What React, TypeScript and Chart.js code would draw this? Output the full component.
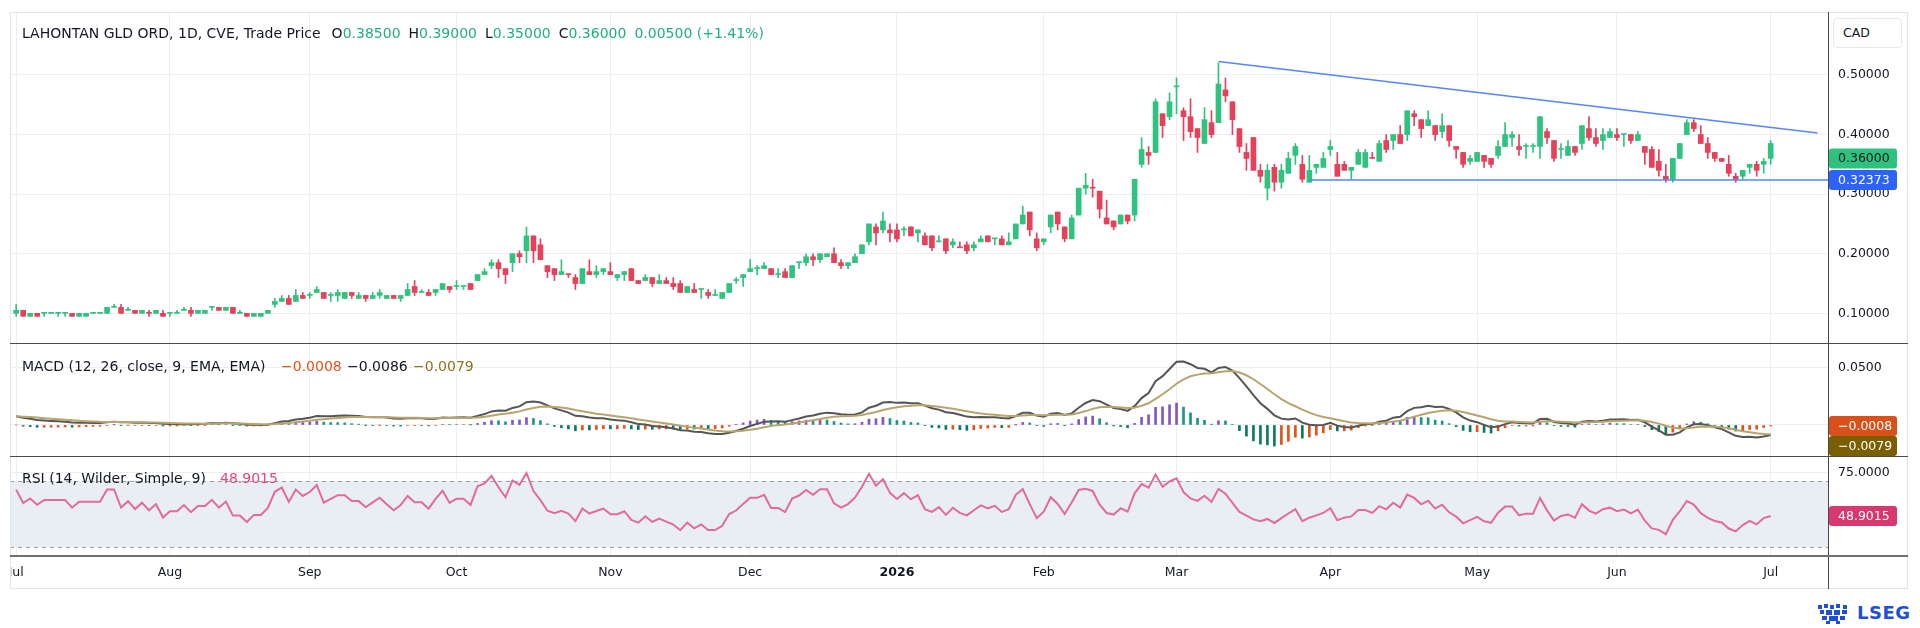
import React, { useEffect, useRef } from 'react';
import { Chart, registerables } from 'chart.js';

Chart.register(...registerables);

// ---------------- DATA ----------------
// Trading days Jul 2 2025 .. Jul 2 2026 (index 0..251)
const monthTickIndex = [0, 22, 42, 63, 85, 105, 126, 147, 166, 188, 209, 229, 251];
const monthTickLabels = ['Jul', 'Aug', 'Sep', 'Oct', 'Nov', 'Dec', '2026', 'Feb', 'Mar', 'Apr', 'May', 'Jun', 'Jul'];

const openPrices = [
  0.100, 0.105, 0.095, 0.100, 0.100, 0.100, 0.100, 0.100, 0.100, 0.095,
  0.095, 0.100, 0.100, 0.100, 0.110, 0.110, 0.105, 0.105, 0.100, 0.100,
  0.100, 0.100, 0.100, 0.100, 0.105, 0.105, 0.100, 0.100, 0.110, 0.110,
  0.105, 0.110, 0.100, 0.100, 0.095, 0.095, 0.100, 0.115, 0.120, 0.125,
  0.120, 0.130, 0.130, 0.135, 0.135, 0.130, 0.130, 0.125, 0.135, 0.125,
  0.130, 0.125, 0.130, 0.125, 0.130, 0.125, 0.130, 0.145, 0.135, 0.135,
  0.135, 0.140, 0.145, 0.145, 0.145, 0.150, 0.155, 0.165, 0.180, 0.185,
  0.175, 0.185, 0.200, 0.205, 0.230, 0.215, 0.180, 0.175, 0.165, 0.165,
  0.160, 0.150, 0.170, 0.165, 0.170, 0.170, 0.160, 0.165, 0.175, 0.155,
  0.155, 0.160, 0.150, 0.155, 0.150, 0.150, 0.135, 0.140, 0.140, 0.135,
  0.130, 0.125, 0.135, 0.155, 0.160, 0.170, 0.175, 0.175, 0.175, 0.165,
  0.170, 0.160, 0.185, 0.185, 0.195, 0.190, 0.195, 0.200, 0.185, 0.180,
  0.185, 0.200, 0.220, 0.245, 0.240, 0.240, 0.240, 0.240, 0.245, 0.235,
  0.230, 0.230, 0.220, 0.225, 0.215, 0.210, 0.215, 0.210, 0.220, 0.230,
  0.225, 0.225, 0.215, 0.225, 0.250, 0.270, 0.225, 0.220, 0.245, 0.270,
  0.245, 0.225, 0.265, 0.310, 0.310, 0.305, 0.260, 0.255, 0.250, 0.265,
  0.265, 0.350, 0.370, 0.370, 0.435, 0.430, 0.480, 0.440, 0.430, 0.410,
  0.385, 0.420, 0.420, 0.475, 0.455, 0.410, 0.370, 0.395, 0.340, 0.310,
  0.345, 0.320, 0.335, 0.365, 0.350, 0.320, 0.345, 0.345, 0.375, 0.350,
  0.350, 0.340, 0.350, 0.345, 0.360, 0.355, 0.390, 0.390, 0.400, 0.400,
  0.435, 0.425, 0.415, 0.415, 0.405, 0.415, 0.380, 0.370, 0.355, 0.355,
  0.365, 0.360, 0.365, 0.380, 0.395, 0.380, 0.380, 0.380, 0.380, 0.405,
  0.390, 0.375, 0.365, 0.380, 0.385, 0.410, 0.395, 0.390, 0.395, 0.400,
  0.400, 0.400, 0.390, 0.380, 0.375, 0.355, 0.330, 0.325, 0.360, 0.400,
  0.420, 0.400, 0.385, 0.370, 0.360, 0.350, 0.330, 0.330, 0.345, 0.350,
  0.350, 0.385,
];

const highPrices = [
  0.115, 0.105, 0.100, 0.100, 0.100, 0.100, 0.100, 0.100, 0.100, 0.100,
  0.100, 0.100, 0.100, 0.110, 0.115, 0.115, 0.110, 0.105, 0.105, 0.105,
  0.105, 0.105, 0.100, 0.105, 0.110, 0.110, 0.105, 0.105, 0.110, 0.110,
  0.110, 0.110, 0.105, 0.100, 0.100, 0.100, 0.105, 0.125, 0.130, 0.130,
  0.140, 0.135, 0.135, 0.145, 0.135, 0.135, 0.140, 0.135, 0.135, 0.135,
  0.130, 0.135, 0.140, 0.130, 0.130, 0.130, 0.150, 0.155, 0.140, 0.140,
  0.140, 0.150, 0.145, 0.155, 0.145, 0.150, 0.165, 0.175, 0.190, 0.190,
  0.175, 0.200, 0.205, 0.245, 0.230, 0.225, 0.180, 0.175, 0.190, 0.165,
  0.165, 0.175, 0.190, 0.180, 0.175, 0.185, 0.165, 0.170, 0.175, 0.155,
  0.165, 0.160, 0.165, 0.160, 0.160, 0.155, 0.145, 0.150, 0.140, 0.140,
  0.140, 0.135, 0.150, 0.160, 0.165, 0.190, 0.180, 0.185, 0.175, 0.175,
  0.175, 0.180, 0.185, 0.200, 0.200, 0.200, 0.200, 0.210, 0.190, 0.185,
  0.200, 0.215, 0.250, 0.250, 0.270, 0.250, 0.250, 0.245, 0.245, 0.240,
  0.235, 0.230, 0.230, 0.225, 0.225, 0.220, 0.220, 0.220, 0.230, 0.230,
  0.225, 0.230, 0.235, 0.250, 0.280, 0.270, 0.235, 0.225, 0.265, 0.270,
  0.245, 0.265, 0.310, 0.335, 0.325, 0.305, 0.290, 0.255, 0.265, 0.265,
  0.325, 0.395, 0.380, 0.460, 0.435, 0.470, 0.495, 0.445, 0.460, 0.410,
  0.445, 0.440, 0.520, 0.495, 0.455, 0.410, 0.385, 0.395, 0.350, 0.350,
  0.350, 0.350, 0.370, 0.385, 0.365, 0.365, 0.350, 0.370, 0.390, 0.370,
  0.355, 0.345, 0.375, 0.375, 0.370, 0.390, 0.400, 0.400, 0.415, 0.440,
  0.440, 0.425, 0.440, 0.415, 0.435, 0.415, 0.380, 0.370, 0.365, 0.370,
  0.365, 0.360, 0.390, 0.420, 0.405, 0.400, 0.385, 0.385, 0.430, 0.410,
  0.390, 0.385, 0.390, 0.380, 0.415, 0.430, 0.410, 0.410, 0.410, 0.410,
  0.400, 0.400, 0.405, 0.380, 0.380, 0.375, 0.350, 0.360, 0.385, 0.425,
  0.425, 0.415, 0.395, 0.370, 0.360, 0.365, 0.335, 0.340, 0.350, 0.355,
  0.360, 0.390,
];

const lowPrices = [
  0.095, 0.095, 0.095, 0.095, 0.095, 0.100, 0.095, 0.095, 0.095, 0.095,
  0.095, 0.100, 0.100, 0.100, 0.110, 0.100, 0.105, 0.100, 0.100, 0.095,
  0.100, 0.095, 0.095, 0.100, 0.105, 0.095, 0.100, 0.100, 0.105, 0.105,
  0.105, 0.100, 0.100, 0.095, 0.095, 0.095, 0.100, 0.110, 0.120, 0.115,
  0.120, 0.125, 0.125, 0.135, 0.125, 0.120, 0.120, 0.125, 0.125, 0.125,
  0.120, 0.125, 0.125, 0.125, 0.125, 0.120, 0.130, 0.130, 0.135, 0.130,
  0.130, 0.140, 0.135, 0.140, 0.140, 0.140, 0.155, 0.165, 0.175, 0.160,
  0.150, 0.170, 0.185, 0.185, 0.185, 0.190, 0.160, 0.155, 0.165, 0.160,
  0.140, 0.150, 0.165, 0.160, 0.165, 0.165, 0.155, 0.155, 0.155, 0.150,
  0.155, 0.145, 0.150, 0.150, 0.140, 0.135, 0.135, 0.135, 0.125, 0.125,
  0.130, 0.125, 0.135, 0.150, 0.145, 0.170, 0.165, 0.175, 0.165, 0.160,
  0.160, 0.160, 0.175, 0.180, 0.180, 0.185, 0.195, 0.185, 0.175, 0.175,
  0.185, 0.200, 0.215, 0.215, 0.235, 0.220, 0.220, 0.230, 0.230, 0.220,
  0.215, 0.205, 0.220, 0.200, 0.210, 0.210, 0.200, 0.205, 0.220, 0.220,
  0.215, 0.215, 0.215, 0.225, 0.250, 0.230, 0.205, 0.215, 0.235, 0.240,
  0.220, 0.225, 0.265, 0.300, 0.295, 0.260, 0.250, 0.240, 0.250, 0.250,
  0.255, 0.345, 0.350, 0.370, 0.395, 0.425, 0.435, 0.390, 0.395, 0.370,
  0.385, 0.395, 0.420, 0.455, 0.400, 0.370, 0.340, 0.340, 0.320, 0.290,
  0.305, 0.310, 0.335, 0.350, 0.320, 0.320, 0.335, 0.345, 0.365, 0.330,
  0.340, 0.325, 0.350, 0.345, 0.360, 0.355, 0.370, 0.375, 0.385, 0.390,
  0.415, 0.395, 0.415, 0.390, 0.395, 0.380, 0.360, 0.345, 0.350, 0.355,
  0.345, 0.345, 0.360, 0.380, 0.380, 0.365, 0.360, 0.370, 0.360, 0.385,
  0.355, 0.360, 0.365, 0.365, 0.375, 0.390, 0.380, 0.375, 0.395, 0.390,
  0.380, 0.385, 0.390, 0.350, 0.345, 0.330, 0.320, 0.320, 0.360, 0.400,
  0.405, 0.385, 0.360, 0.355, 0.355, 0.330, 0.320, 0.325, 0.335, 0.330,
  0.335, 0.350,
];

const closePrices = [
  0.105, 0.095, 0.100, 0.095, 0.100, 0.100, 0.100, 0.100, 0.095, 0.100,
  0.100, 0.100, 0.100, 0.110, 0.110, 0.100, 0.105, 0.100, 0.105, 0.100,
  0.105, 0.095, 0.100, 0.100, 0.105, 0.100, 0.105, 0.105, 0.110, 0.105,
  0.110, 0.100, 0.100, 0.095, 0.100, 0.100, 0.105, 0.120, 0.125, 0.115,
  0.130, 0.125, 0.130, 0.140, 0.125, 0.130, 0.135, 0.135, 0.130, 0.130,
  0.125, 0.130, 0.135, 0.130, 0.125, 0.130, 0.140, 0.135, 0.135, 0.130,
  0.140, 0.150, 0.140, 0.145, 0.145, 0.140, 0.165, 0.170, 0.185, 0.175,
  0.165, 0.200, 0.195, 0.230, 0.205, 0.190, 0.170, 0.165, 0.170, 0.165,
  0.150, 0.175, 0.165, 0.170, 0.175, 0.165, 0.165, 0.170, 0.155, 0.150,
  0.160, 0.150, 0.155, 0.150, 0.145, 0.135, 0.145, 0.135, 0.140, 0.130,
  0.130, 0.135, 0.150, 0.155, 0.165, 0.175, 0.175, 0.180, 0.165, 0.165,
  0.160, 0.180, 0.185, 0.195, 0.190, 0.200, 0.200, 0.185, 0.180, 0.185,
  0.195, 0.215, 0.250, 0.235, 0.255, 0.235, 0.225, 0.240, 0.230, 0.240,
  0.215, 0.210, 0.220, 0.205, 0.220, 0.210, 0.205, 0.215, 0.225, 0.220,
  0.225, 0.215, 0.220, 0.250, 0.265, 0.240, 0.210, 0.225, 0.265, 0.250,
  0.225, 0.260, 0.310, 0.315, 0.310, 0.275, 0.250, 0.245, 0.265, 0.255,
  0.325, 0.375, 0.365, 0.455, 0.415, 0.455, 0.480, 0.430, 0.405, 0.395,
  0.425, 0.400, 0.485, 0.465, 0.425, 0.380, 0.360, 0.340, 0.330, 0.340,
  0.320, 0.340, 0.360, 0.380, 0.325, 0.340, 0.350, 0.360, 0.380, 0.330,
  0.340, 0.345, 0.370, 0.370, 0.360, 0.385, 0.375, 0.400, 0.385, 0.440,
  0.430, 0.410, 0.425, 0.400, 0.415, 0.390, 0.375, 0.350, 0.360, 0.370,
  0.355, 0.350, 0.380, 0.400, 0.400, 0.375, 0.380, 0.380, 0.430, 0.395,
  0.360, 0.375, 0.380, 0.370, 0.415, 0.395, 0.385, 0.400, 0.405, 0.395,
  0.400, 0.390, 0.400, 0.370, 0.345, 0.340, 0.325, 0.360, 0.385, 0.420,
  0.410, 0.385, 0.370, 0.360, 0.355, 0.335, 0.325, 0.340, 0.350, 0.340,
  0.355, 0.360,
];

// header values
const lastChange = 0.005;
const headerOHLC = ['0.38500', '0.39000', '0.35000', '0.36000'];
const headerChange = '0.00500 (+1.41%)';

// drawn trend lines
const trendTopLine = [{ x: 172, y: 0.5225 }, { x: 257.7, y: 0.4027 }];
const supportLevel = 0.32373;
const supportStartIndex = 185;

const macdStartValue = 0.0076;
const rsiSeedAvgGain = 0.0035;
const rsiSeedAvgLoss = 0.0019;

// legend / badge values shown on the reference
const macdLegendValues = ['\u22120.0008', '\u22120.0086', '\u22120.0079'];
const macdHistLast = -0.0008;
const macdSignalLast = -0.0079;
const rsiLast = 48.9015;

// axis ticks
const priceTicks = [0.1, 0.2, 0.3, 0.4, 0.5];
const macdTicks = [0, 0.05];
const rsiTicks = [50, 75];

// ---------------- STYLE ----------------
const FONT = '"DejaVu Sans", sans-serif';
const GREEN = '#2ec47f';
const RED = '#e5415b';
const GRID = '#eceef1';
const TEXT = '#131722';
const X_MIN = -0.887;
const X_MAX = 259.2;

// ---------------- INDICATORS ----------------
function computeMacd(closes: number[]) {
  const k12 = 2 / 13, k26 = 2 / 27, k9 = 2 / 10;
  let e12 = closes[0];
  let e26 = closes[0] - macdStartValue;
  let sig = macdStartValue;
  const macd: number[] = [], signal: number[] = [], hist: number[] = [];
  for (let i = 0; i < closes.length; i++) {
    if (i > 0) {
      e12 = closes[i] * k12 + e12 * (1 - k12);
      e26 = closes[i] * k26 + e26 * (1 - k26);
    }
    const m = e12 - e26;
    if (i > 0) sig = m * k9 + sig * (1 - k9);
    macd.push(m);
    signal.push(sig);
    hist.push(m - sig);
  }
  return { macd, signal, hist };
}

function computeRsi(closes: number[]) {
  let ag = rsiSeedAvgGain, al = rsiSeedAvgLoss;
  const out: number[] = [];
  for (let i = 0; i < closes.length; i++) {
    if (i > 0) {
      const ch = closes[i] - closes[i - 1];
      ag = (ag * 13 + Math.max(ch, 0)) / 14;
      al = (al * 13 + Math.max(-ch, 0)) / 14;
    }
    out.push(al === 0 ? 100 : 100 - 100 / (1 + ag / al));
  }
  return out;
}

type Badge = { value: number; text: string; bg: string; fg: string };

function badgePlugin(id: string, badges: Badge[]) {
  return {
    id,
    afterDraw(chart: any) {
      const { ctx, chartArea } = chart;
      const yScale = chart.scales.y;
      const h = 20;
      const items = badges
        .map((b) => ({ ...b, py: yScale.getPixelForValue(b.value) }))
        .sort((a, b) => a.py - b.py);
      let prevBottom = -Infinity;
      ctx.save();
      ctx.font = `12.5px ${FONT}`;
      ctx.textBaseline = 'middle';
      ctx.textAlign = 'left';
      for (const b of items) {
        let top = b.py - h / 2;
        if (top < prevBottom) top = prevBottom;
        ctx.beginPath();
        ctx.roundRect(chartArea.right + 1, top, 68, h, 3);
        ctx.fillStyle = b.bg;
        ctx.fill();
        ctx.fillStyle = b.fg;
        ctx.fillText(b.text, chartArea.right + 10, top + h / 2 + 0.5);
        prevBottom = top + h;
      }
      ctx.restore();
    },
  };
}

function xScale(showLabels: boolean) {
  return {
    type: 'linear',
    min: X_MIN,
    max: X_MAX,
    offset: false,
    afterBuildTicks: (s: any) => {
      s.ticks = monthTickIndex.map((v) => ({ value: v }));
    },
    afterFit: (s: any) => {
      s.height = showLabels ? 33 : 0;
      s.paddingLeft = 0;
      s.paddingRight = 0;
      s.paddingTop = 0;
      s.paddingBottom = 0;
    },
    grid: { color: GRID, drawTicks: false, offset: false },
    border: { display: false },
    ticks: {
      display: showLabels,
      autoSkip: false,
      maxRotation: 0,
      minRotation: 0,
      padding: 9,
      color: TEXT,
      font: (c: any) => ({
        family: FONT,
        size: 12.5,
        weight: monthTickLabels[c.index] === '2026' ? 'bold' : 'normal',
      }),
      callback: (_v: any, i: number) => monthTickLabels[i],
    },
  };
}

function yScale(min: number, max: number, ticks: number[], digits: number) {
  return {
    type: 'linear',
    position: 'right',
    min,
    max,
    afterBuildTicks: (s: any) => {
      s.ticks = ticks.map((v) => ({ value: v }));
    },
    afterFit: (s: any) => {
      s.width = 80;
      s.paddingTop = 0;
      s.paddingBottom = 0;
      s.paddingLeft = 0;
      s.paddingRight = 0;
    },
    grid: { color: GRID, drawTicks: false },
    border: { display: false },
    ticks: {
      padding: 10,
      color: TEXT,
      font: { family: FONT, size: 12.5 },
      callback: (v: any) => Number(v).toFixed(digits),
    },
  };
}

const baseOptions = {
  responsive: false,
  maintainAspectRatio: false,
  animation: false,
  devicePixelRatio: 1,
  events: [],
  layout: { padding: 0, autoPadding: false },
  plugins: { legend: { display: false }, tooltip: { enabled: false } },
};

export default function App() {
  const priceRef = useRef<HTMLCanvasElement>(null);
  const macdRef = useRef<HTMLCanvasElement>(null);
  const rsiRef = useRef<HTMLCanvasElement>(null);

  useEffect(() => {
    const n = closePrices.length;
    const upColor = closePrices.map((c, i) => {
      const o = openPrices[i];
      const prev = i > 0 ? closePrices[i - 1] : c;
      let up: boolean;
      if (i === n - 1) up = lastChange >= 0;
      else if (c > o) up = true;
      else if (c < o) up = false;
      else up = c >= prev;
      return up ? GREEN : RED;
    });

    const wickData = closePrices.map((_, i) => ({ x: i, y: [lowPrices[i], highPrices[i]] }));
    const bodyData = closePrices.map((c, i) => ({ x: i, y: [openPrices[i], c] }));

    const priceChart = new Chart(priceRef.current as HTMLCanvasElement, {
      type: 'bar',
      data: {
        datasets: [
          {
            type: 'bar',
            data: wickData as any,
            backgroundColor: upColor,
            grouped: false,
            maxBarThickness: 1,
            barPercentage: 1,
            categoryPercentage: 1,
            borderWidth: 0,
            order: 3,
          } as any,
          {
            type: 'bar',
            data: bodyData as any,
            backgroundColor: upColor,
            grouped: false,
            maxBarThickness: 5,
            barPercentage: 1,
            categoryPercentage: 1,
            borderWidth: 0,
            minBarLength: 1,
            order: 2,
          } as any,
          {
            type: 'line',
            data: trendTopLine as any,
            borderColor: '#5585ff',
            borderWidth: 1.5,
            pointRadius: 0,
            tension: 0,
            order: 1,
          } as any,
          {
            type: 'line',
            data: [
              { x: supportStartIndex, y: supportLevel },
              { x: X_MAX, y: supportLevel },
            ] as any,
            borderColor: '#5585ff',
            borderWidth: 1.5,
            pointRadius: 0,
            tension: 0,
            order: 1,
          } as any,
        ],
      },
      options: {
        ...baseOptions,
        scales: {
          x: xScale(false),
          y: yScale(0.0502, 0.6057, priceTicks, 5),
        },
      } as any,
      plugins: [
        badgePlugin('priceBadges', [
          { value: closePrices[n - 1], text: closePrices[n - 1].toFixed(5), bg: '#2fc27f', fg: TEXT },
          { value: supportLevel, text: supportLevel.toFixed(5), bg: '#2c63fb', fg: '#ffffff' },
        ]),
      ],
    });

    const { macd, signal, hist } = computeMacd(closePrices);
    const histColors = hist.map((h, i) => {
      const prev = i > 0 ? hist[i - 1] : h;
      const rising = h >= prev;
      if (h >= 0) return rising ? '#8057c4' : '#1b9686';
      return rising ? '#e0531a' : '#0b7a62';
    });

    const macdChart = new Chart(macdRef.current as HTMLCanvasElement, {
      type: 'bar',
      data: {
        datasets: [
          {
            type: 'bar',
            data: hist.map((h, i) => ({ x: i, y: h })) as any,
            backgroundColor: histColors,
            grouped: false,
            maxBarThickness: 2,
            barPercentage: 1,
            categoryPercentage: 1,
            borderWidth: 0,
            order: 3,
          } as any,
          {
            type: 'line',
            data: macd.map((v, i) => ({ x: i, y: v })) as any,
            borderColor: '#555555',
            borderWidth: 2,
            pointRadius: 0,
            tension: 0,
            order: 2,
          } as any,
          {
            type: 'line',
            data: signal.map((v, i) => ({ x: i, y: v })) as any,
            borderColor: '#b8a46c',
            borderWidth: 2,
            pointRadius: 0,
            tension: 0,
            order: 1,
          } as any,
        ],
      },
      options: {
        ...baseOptions,
        scales: {
          x: xScale(false),
          y: yScale(-0.0272, 0.0719, macdTicks, 4),
        },
      } as any,
      plugins: [
        badgePlugin('macdBadges', [
          { value: macdHistLast, text: macdLegendValues[0], bg: '#d9501a', fg: '#ffffff' },
          { value: macdSignalLast, text: macdLegendValues[2], bg: '#7a5e02', fg: '#ffffff' },
        ]),
      ],
    });

    const rsi = computeRsi(closePrices);
    const rsiBand = {
      id: 'rsiBand',
      beforeDraw(chart: any) {
        const { ctx, chartArea } = chart;
        const y = chart.scales.y;
        const top = y.getPixelForValue(70);
        const bottom = y.getPixelForValue(30);
        ctx.save();
        ctx.fillStyle = '#e8eef4';
        ctx.fillRect(chartArea.left, top, chartArea.right - chartArea.left, bottom - top);
        ctx.restore();
      },
      beforeDatasetsDraw(chart: any) {
        const { ctx, chartArea } = chart;
        const y = chart.scales.y;
        ctx.save();
        ctx.strokeStyle = '#9aa0a6';
        ctx.lineWidth = 1;
        ctx.setLineDash([4, 4]);
        for (const v of [70, 30]) {
          const py = Math.round(y.getPixelForValue(v)) + 0.5;
          ctx.beginPath();
          ctx.moveTo(chartArea.left, py);
          ctx.lineTo(chartArea.right, py);
          ctx.stroke();
        }
        ctx.restore();
      },
    };

    const rsiChart = new Chart(rsiRef.current as HTMLCanvasElement, {
      type: 'line',
      data: {
        datasets: [
          {
            data: rsi.map((v, i) => ({ x: i, y: v })) as any,
            borderColor: '#e26b98',
            borderWidth: 2,
            pointRadius: 0,
            tension: 0,
          } as any,
        ],
      },
      options: {
        ...baseOptions,
        scales: {
          x: xScale(true),
          y: yScale(24.6, 85.2, rsiTicks, 4),
        },
      } as any,
      plugins: [
        rsiBand,
        badgePlugin('rsiBadges', [
          { value: rsiLast, text: rsiLast.toFixed(4), bg: '#d8376f', fg: '#ffffff' },
        ]),
      ],
    });

    return () => {
      priceChart.destroy();
      macdChart.destroy();
      rsiChart.destroy();
    };
  }, []);

  const legendStyle = (left: number, top: number, color: string): React.CSSProperties => ({
    position: 'absolute',
    left,
    top: top - 10,
    height: 20,
    lineHeight: '20px',
    fontSize: 14,
    color,
    whiteSpace: 'nowrap',
    fontFamily: FONT,
  });

  const lineH = (top: number, color: string, h = 1): React.CSSProperties => ({
    position: 'absolute',
    left: 10,
    top,
    width: 1898,
    height: h,
    background: color,
  });

  const valGreen = '#22b07a';

  return (
    <div
      style={{
        position: 'absolute',
        left: 0,
        top: 0,
        width: 1920,
        height: 628,
        background: '#ffffff',
        overflow: 'hidden',
        fontFamily: FONT,
      }}
    >
      <canvas ref={priceRef} width={1898} height={331} style={{ position: 'absolute', left: 10, top: 12, width: 1898, height: 331 }} />
      <canvas ref={macdRef} width={1898} height={113} style={{ position: 'absolute', left: 10, top: 343, width: 1898, height: 113 }} />
      <canvas ref={rsiRef} width={1898} height={133} style={{ position: 'absolute', left: 10, top: 456, width: 1898, height: 133 }} />

      {/* frame */}
      <div style={{ position: 'absolute', left: 10, top: 12, width: 1898, height: 577, border: '1px solid #e2e4e8', boxSizing: 'border-box', pointerEvents: 'none' }} />
      <div style={{ position: 'absolute', left: 1828, top: 12, width: 1, height: 577, background: '#4a4a4a' }} />
      <div style={lineH(343, '#4a4a4a')} />
      <div style={lineH(456, '#4a4a4a')} />
      <div style={lineH(555, '#6f6f6f', 2)} />

      {/* CAD box */}
      <div
        style={{
          position: 'absolute',
          left: 1833,
          top: 18,
          width: 69,
          height: 30,
          border: '1px solid #e6e8ec',
          borderRadius: 4,
          boxSizing: 'border-box',
          fontSize: 12.5,
          lineHeight: '28px',
          paddingLeft: 9,
          color: TEXT,
          background: '#ffffff',
        }}
      >
        CAD
      </div>

      {/* title legend */}
      <div style={{ ...legendStyle(22, 33, TEXT) }}>
        <span>LAHONTAN GLD ORD, 1D, CVE, Trade Price</span>
        <span style={{ marginLeft: 11 }}>O<span style={{ color: valGreen }}>{headerOHLC[0]}</span></span>
        <span style={{ marginLeft: 8 }}>H<span style={{ color: valGreen }}>{headerOHLC[1]}</span></span>
        <span style={{ marginLeft: 8 }}>L<span style={{ color: valGreen }}>{headerOHLC[2]}</span></span>
        <span style={{ marginLeft: 8 }}>C<span style={{ color: valGreen }}>{headerOHLC[3]}</span></span>
        <span style={{ marginLeft: 8, color: valGreen }}>{headerChange}</span>
      </div>

      {/* MACD legend */}
      <div style={legendStyle(22, 366, TEXT)}>MACD (12, 26, close, 9, EMA, EMA)</div>
      <div style={legendStyle(281, 366, '#e0531a')}>{macdLegendValues[0]}</div>
      <div style={legendStyle(347, 366, TEXT)}>{macdLegendValues[1]}</div>
      <div style={legendStyle(413, 366, '#8c741c')}>{macdLegendValues[2]}</div>

      {/* RSI legend */}
      <div style={legendStyle(22, 478, TEXT)}>RSI (14, Wilder, Simple, 9)</div>
      <div style={legendStyle(220, 478, '#e2457c')}>{rsiLast.toFixed(4)}</div>

      {/* LSEG logo */}
      <svg style={{ position: 'absolute', left: 1816, top: 603 }} width={36} height={22} viewBox="0 0 36 22">
        <g fill="#1f4fd6">
          <rect x="2" y="2" width="4" height="4" />
          <rect x="8" y="1" width="4" height="4" />
          <rect x="14" y="2" width="4" height="4" />
          <rect x="20" y="1" width="4" height="4" />
          <rect x="27" y="2" width="4" height="4" />
          <rect x="4" y="7" width="4" height="4" />
          <rect x="10" y="7" width="6" height="5" />
          <rect x="18" y="7" width="6" height="5" />
          <rect x="26" y="7" width="5" height="4" />
          <rect x="6" y="13" width="5" height="4" />
          <rect x="13" y="13" width="9" height="5" />
          <rect x="24" y="13" width="5" height="4" />
          <rect x="10" y="18" width="4" height="3" />
          <rect x="20" y="18" width="4" height="3" />
        </g>
      </svg>
      <div
        style={{
          position: 'absolute',
          left: 1857,
          top: 601,
          fontSize: 18,
          fontWeight: 'bold',
          color: '#1f4fd6',
          lineHeight: '24px',
          letterSpacing: 0.5,
        }}
      >
        LSEG
      </div>
    </div>
  );
}
